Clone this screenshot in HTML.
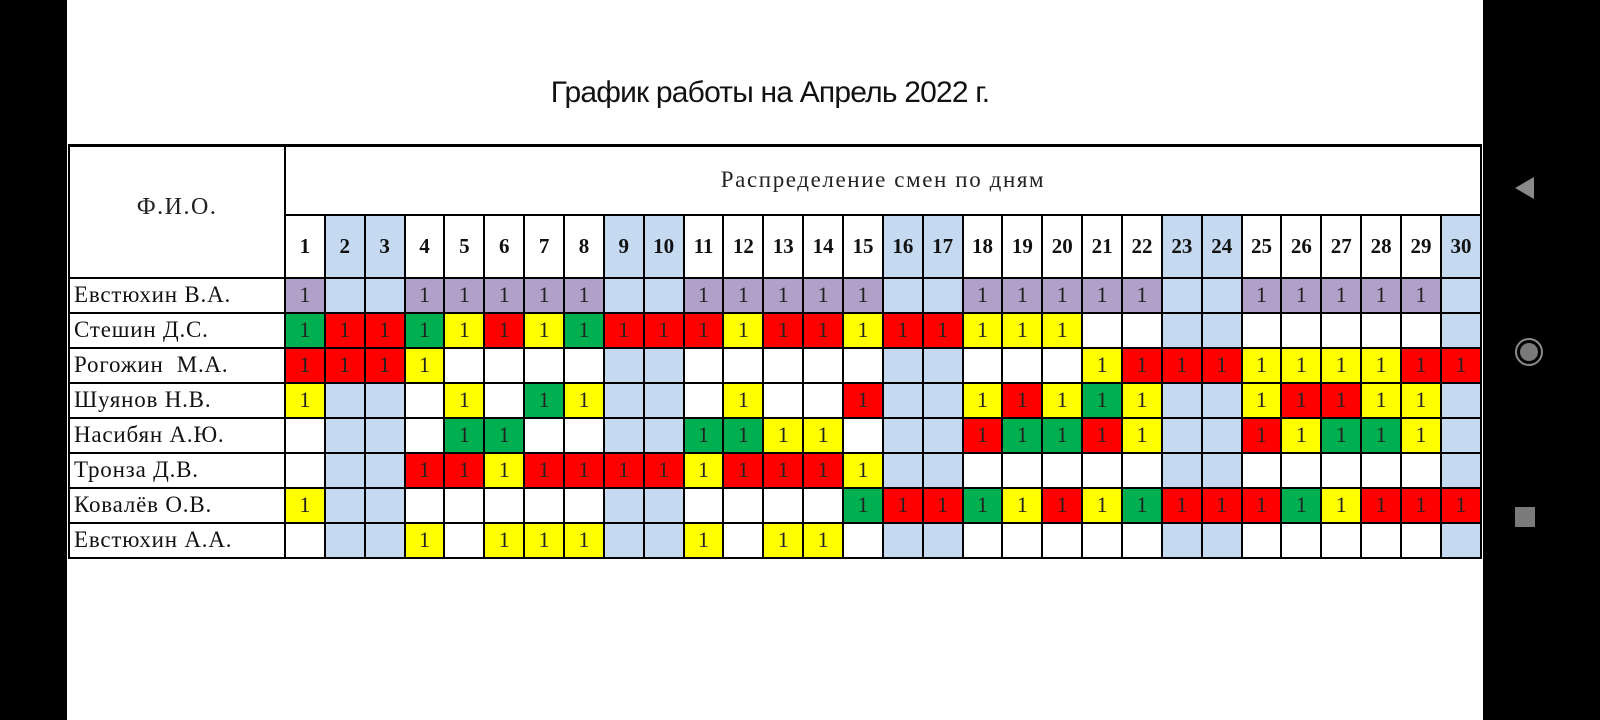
<!DOCTYPE html>
<html><head><meta charset="utf-8">
<style>
html,body{margin:0;padding:0;}
body{width:1600px;height:720px;background:#000;position:relative;overflow:hidden;}
#page{position:absolute;left:67px;top:0;width:1416px;height:720px;background:#fff;}
#title{position:absolute;left:0;width:1406px;top:76px;text-align:center;font-family:"Liberation Sans",sans-serif;font-size:30px;letter-spacing:-0.8px;color:#111;}
table{position:absolute;left:1px;top:144px;width:1414px;border-collapse:collapse;table-layout:fixed;font-family:"Liberation Serif",serif;}
td{border:2px solid #000;padding:0;text-align:center;font-size:22px;color:#222;background:#fff;}
tr.d{height:35px;}
tr.top td{border-top:3px solid #000;}
td.n{text-align:left;padding-left:4px;font-size:23px;letter-spacing:0.8px;color:#111;white-space:nowrap;}
td.h{font-weight:bold;font-size:21px;color:#111;}
.b{background:#c5d9f1;}
.p{background:#b1a0c7;}
.g{background:#00b050;}
.r{background:#ff0000;}
.y{background:#ffff00;}
.nav{position:absolute;left:1514px;}
</style></head><body>
<div id="page">
<div id="title">График работы на Апрель 2022 г.</div>
<table>
<colgroup><col style="width:216px"><col span="30"></colgroup>
<tr class="top" style="height:69px"><td rowspan="2" style="font-size:24px;letter-spacing:1.5px;padding-bottom:8px;">Ф.И.О.</td><td colspan="30" style="font-size:23px;letter-spacing:1.6px;">Распределение смен по дням</td></tr>
<tr style="height:63px"><td class="h">1</td><td class="h b">2</td><td class="h b">3</td><td class="h">4</td><td class="h">5</td><td class="h">6</td><td class="h">7</td><td class="h">8</td><td class="h b">9</td><td class="h b">10</td><td class="h">11</td><td class="h">12</td><td class="h">13</td><td class="h">14</td><td class="h">15</td><td class="h b">16</td><td class="h b">17</td><td class="h">18</td><td class="h">19</td><td class="h">20</td><td class="h">21</td><td class="h">22</td><td class="h b">23</td><td class="h b">24</td><td class="h">25</td><td class="h">26</td><td class="h">27</td><td class="h">28</td><td class="h">29</td><td class="h b">30</td></tr>
<tr class="d"><td class="n">Евстюхин В.А.</td><td class="p">1</td><td class="b"></td><td class="b"></td><td class="p">1</td><td class="p">1</td><td class="p">1</td><td class="p">1</td><td class="p">1</td><td class="b"></td><td class="b"></td><td class="p">1</td><td class="p">1</td><td class="p">1</td><td class="p">1</td><td class="p">1</td><td class="b"></td><td class="b"></td><td class="p">1</td><td class="p">1</td><td class="p">1</td><td class="p">1</td><td class="p">1</td><td class="b"></td><td class="b"></td><td class="p">1</td><td class="p">1</td><td class="p">1</td><td class="p">1</td><td class="p">1</td><td class="b"></td></tr>
<tr class="d"><td class="n">Стешин Д.С.</td><td class="g">1</td><td class="r">1</td><td class="r">1</td><td class="g">1</td><td class="y">1</td><td class="r">1</td><td class="y">1</td><td class="g">1</td><td class="r">1</td><td class="r">1</td><td class="r">1</td><td class="y">1</td><td class="r">1</td><td class="r">1</td><td class="y">1</td><td class="r">1</td><td class="r">1</td><td class="y">1</td><td class="y">1</td><td class="y">1</td><td></td><td></td><td class="b"></td><td class="b"></td><td></td><td></td><td></td><td></td><td></td><td class="b"></td></tr>
<tr class="d"><td class="n">Рогожин&nbsp; М.А.</td><td class="r">1</td><td class="r">1</td><td class="r">1</td><td class="y">1</td><td></td><td></td><td></td><td></td><td class="b"></td><td class="b"></td><td></td><td></td><td></td><td></td><td></td><td class="b"></td><td class="b"></td><td></td><td></td><td></td><td class="y">1</td><td class="r">1</td><td class="r">1</td><td class="r">1</td><td class="y">1</td><td class="y">1</td><td class="y">1</td><td class="y">1</td><td class="r">1</td><td class="r">1</td></tr>
<tr class="d"><td class="n">Шуянов Н.В.</td><td class="y">1</td><td class="b"></td><td class="b"></td><td></td><td class="y">1</td><td></td><td class="g">1</td><td class="y">1</td><td class="b"></td><td class="b"></td><td></td><td class="y">1</td><td></td><td></td><td class="r">1</td><td class="b"></td><td class="b"></td><td class="y">1</td><td class="r">1</td><td class="y">1</td><td class="g">1</td><td class="y">1</td><td class="b"></td><td class="b"></td><td class="y">1</td><td class="r">1</td><td class="r">1</td><td class="y">1</td><td class="y">1</td><td class="b"></td></tr>
<tr class="d"><td class="n">Насибян А.Ю.</td><td></td><td class="b"></td><td class="b"></td><td></td><td class="g">1</td><td class="g">1</td><td></td><td></td><td class="b"></td><td class="b"></td><td class="g">1</td><td class="g">1</td><td class="y">1</td><td class="y">1</td><td></td><td class="b"></td><td class="b"></td><td class="r">1</td><td class="g">1</td><td class="g">1</td><td class="r">1</td><td class="y">1</td><td class="b"></td><td class="b"></td><td class="r">1</td><td class="y">1</td><td class="g">1</td><td class="g">1</td><td class="y">1</td><td class="b"></td></tr>
<tr class="d"><td class="n">Тронза Д.В.</td><td></td><td class="b"></td><td class="b"></td><td class="r">1</td><td class="r">1</td><td class="y">1</td><td class="r">1</td><td class="r">1</td><td class="r">1</td><td class="r">1</td><td class="y">1</td><td class="r">1</td><td class="r">1</td><td class="r">1</td><td class="y">1</td><td class="b"></td><td class="b"></td><td></td><td></td><td></td><td></td><td></td><td class="b"></td><td class="b"></td><td></td><td></td><td></td><td></td><td></td><td class="b"></td></tr>
<tr class="d"><td class="n">Ковалёв О.В.</td><td class="y">1</td><td class="b"></td><td class="b"></td><td></td><td></td><td></td><td></td><td></td><td class="b"></td><td class="b"></td><td></td><td></td><td></td><td></td><td class="g">1</td><td class="r">1</td><td class="r">1</td><td class="g">1</td><td class="y">1</td><td class="r">1</td><td class="y">1</td><td class="g">1</td><td class="r">1</td><td class="r">1</td><td class="r">1</td><td class="g">1</td><td class="y">1</td><td class="r">1</td><td class="r">1</td><td class="r">1</td></tr>
<tr class="d"><td class="n">Евстюхин А.А.</td><td></td><td class="b"></td><td class="b"></td><td class="y">1</td><td></td><td class="y">1</td><td class="y">1</td><td class="y">1</td><td class="b"></td><td class="b"></td><td class="y">1</td><td></td><td class="y">1</td><td class="y">1</td><td></td><td class="b"></td><td class="b"></td><td></td><td></td><td></td><td></td><td></td><td class="b"></td><td class="b"></td><td></td><td></td><td></td><td></td><td></td><td class="b"></td></tr>
</table>
</div>
<svg class="nav" style="top:176px" width="22" height="24"><polygon points="20,1 20,23 1,12" fill="#8a8a8a"/></svg>
<svg class="nav" style="top:337px" width="30" height="30"><circle cx="15" cy="15" r="13" fill="none" stroke="#8a8a8a" stroke-width="2"/><circle cx="15" cy="15" r="9" fill="#7a7a7a"/></svg>
<div class="nav" style="top:507px;left:1515px;width:20px;height:20px;background:#7a7a7a;"></div>
</body></html>
